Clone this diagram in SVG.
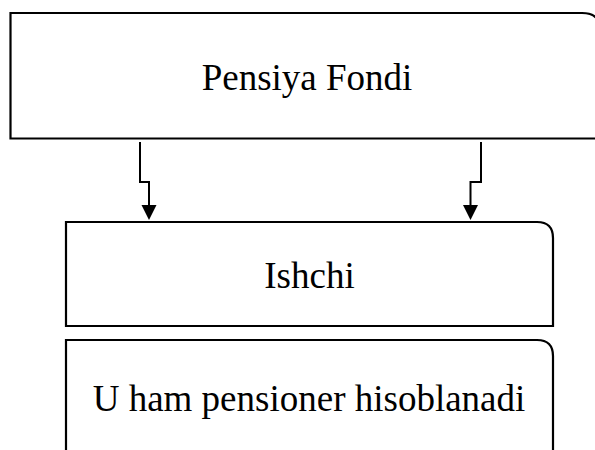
<svg xmlns="http://www.w3.org/2000/svg" width="595" height="450" viewBox="0 0 595 450">
<defs>
<style>
.box{fill:#fff;stroke:#000;stroke-width:2.2}
.lbl{font-family:"Liberation Serif","Times New Roman",serif;fill:#000;text-anchor:middle;font-size:37px}
.con{fill:none;stroke:#000;stroke-width:2}
</style>
</defs>
<rect width="595" height="450" fill="#fff"/>
<g id="node-pensiya">
<path class="box" d="M10.5,13 H582 Q601,13 601,32 V138.5 H10.5 Z"/>
<text class="lbl" x="307" y="90">Pensiya Fondi</text>
</g>
<g id="node-ishchi">
<path class="box" d="M66,222 H537 Q553,222 553,238 V326 H66 Z"/>
<text class="lbl" x="309.5" y="288">Ishchi</text>
</g>
<g id="node-pensioner">
<path class="box" d="M66,340 H537 Q553,340 553,356 V460 H66 Z"/>
<text class="lbl" x="309" y="411">U ham pensioner hisoblanadi</text>
</g>
<g id="connectors">
<path d="M140,142 V182 H149 V206" class="con"/>
<path d="M141.5,205 H156.5 L149,220 Z" fill="#000"/>
<path d="M481,142 V182 H470.5 V206" class="con"/>
<path d="M463,205 H478 L470.5,220 Z" fill="#000"/>
</g>
</svg>
